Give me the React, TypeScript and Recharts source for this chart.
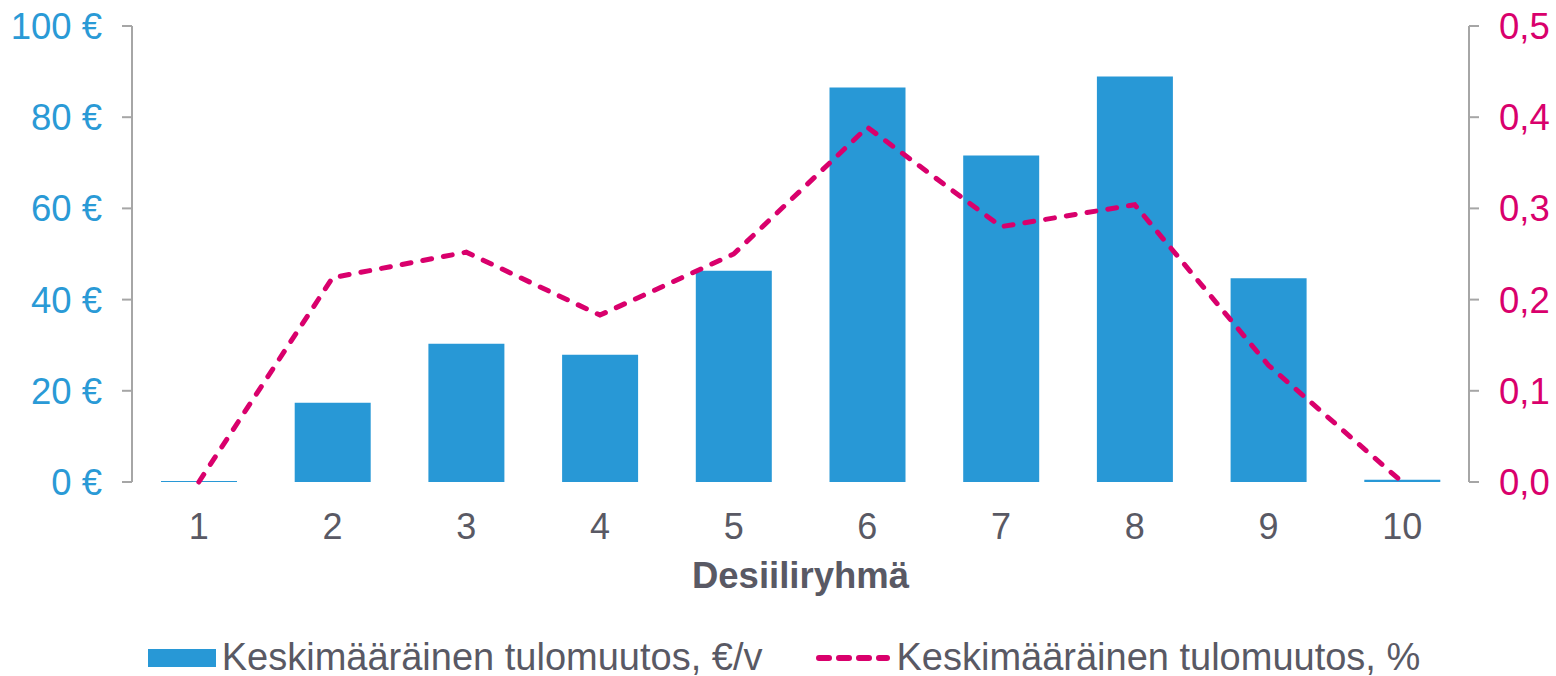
import React from 'react';
import { ComposedChart, Bar, Line, XAxis, YAxis, Legend, Label } from 'recharts';

const categories = ['1', '2', '3', '4', '5', '6', '7', '8', '9', '10'];
const euroValues = [0.2, 17.4, 30.3, 27.9, 46.3, 86.5, 71.6, 88.9, 44.7, 0.5];
const pctValues = [0.0, 0.224, 0.252, 0.183, 0.25, 0.389, 0.28, 0.304, 0.128, 0.0];
const leftTicks = [0, 20, 40, 60, 80, 100];
const rightTicks = [0, 0.1, 0.2, 0.3, 0.4, 0.5];
const boundaryTicks = [0.5, 1.5, 2.5, 3.5, 4.5, 5.5, 6.5, 7.5, 8.5, 9.5, 10.5];
const barName = 'Keskimääräinen tulomuutos, €/v';
const lineName = 'Keskimääräinen tulomuutos, %';
const xTitle = 'Desiiliryhmä';

const data = categories.map((c, i) => ({ cat: c, euro: euroValues[i], pct: pctValues[i] }));

const BLUE = '#2898d6';
const MAGENTA = '#d9006c';
const GRAY = '#a6a6a6';
const TEXT = '#595964';
const FONT = '"Liberation Sans", Arial, sans-serif';

const LegendContent = () => (
  <div
    style={{
      display: 'flex',
      justifyContent: 'center',
      alignItems: 'center',
      gap: 54,
      paddingTop: 44,
      paddingLeft: 12,
      fontFamily: FONT,
      fontSize: 38,
      color: TEXT,
      whiteSpace: 'nowrap',
    }}
  >
    <div style={{ display: 'flex', alignItems: 'center' }}>
      <svg width={68} height={18} style={{ marginRight: 6 }}>
        <rect x={0} y={0} width={68} height={18} fill={BLUE} />
      </svg>
      <span>{barName}</span>
    </div>
    <div style={{ display: 'flex', alignItems: 'center' }}>
      <svg width={74} height={10} style={{ marginRight: 6 }}>
        <line x1={3} y1={5} x2={71} y2={5} stroke={MAGENTA} strokeWidth={6} strokeDasharray="10 10" strokeLinecap="round" />
      </svg>
      <span>{lineName}</span>
    </div>
  </div>
);

export default function App() {
  return (
    <div style={{ position: 'absolute', left: 0, top: 0, width: 1556, height: 676, background: '#fff' }}>
      <ComposedChart
        width={1556}
        height={676}
        data={data}
        margin={{ top: 26, right: 0, bottom: 0, left: 0 }}
      >
        <XAxis
          xAxisId="grid"
          type="number"
          dataKey={() => 0}
          domain={[0.5, 10.5]}
          ticks={boundaryTicks}
          allowDataOverflow
          height={0}
          tick={false}
          tickSize={10}
          axisLine={{ stroke: GRAY, strokeWidth: 2 }}
          tickLine={{ stroke: GRAY, strokeWidth: 2 }}
        />
        <XAxis
          xAxisId="cat"
          dataKey="cat"
          height={110}
          axisLine={false}
          tickLine={false}
          tickSize={10}
          tickMargin={21}
          interval={0}
          tick={{ fill: TEXT, fontSize: 36, fontFamily: FONT }}
        >
          <Label
            value={xTitle}
            position="insideBottom"
            offset={4}
            style={{ fill: TEXT, fontSize: 36.5, fontWeight: 'bold', fontFamily: FONT }}
          />
        </XAxis>
        <YAxis
          yAxisId="left"
          orientation="left"
          width={132}
          domain={[0, 100]}
          ticks={leftTicks}
          tickFormatter={(v: number) => `${v} €`}
          tickSize={10}
          tickMargin={20}
          axisLine={{ stroke: GRAY, strokeWidth: 2 }}
          tickLine={{ stroke: GRAY, strokeWidth: 2 }}
          tick={{ fill: '#2a9ad6', fontSize: 36.5, fontFamily: FONT }}
        />
        <YAxis
          yAxisId="right"
          orientation="right"
          width={87}
          domain={[0, 0.5]}
          ticks={rightTicks}
          tickFormatter={(v: number) => v.toFixed(1).replace('.', ',')}
          tickSize={10}
          tickMargin={20}
          axisLine={{ stroke: GRAY, strokeWidth: 2 }}
          tickLine={{ stroke: GRAY, strokeWidth: 2 }}
          tick={{ fill: MAGENTA, fontSize: 36.5, fontFamily: FONT, textAnchor: 'start' }}
        />
        <Legend verticalAlign="bottom" height={84} content={<LegendContent />} />
        <Bar
          xAxisId="cat"
          yAxisId="left"
          dataKey="euro"
          name={barName}
          fill={BLUE}
          barSize={76}
          isAnimationActive={false}
        />
        <Line
          xAxisId="cat"
          yAxisId="right"
          dataKey="pct"
          name={lineName}
          stroke={MAGENTA}
          strokeWidth={5}
          strokeDasharray="9 12"
          strokeLinecap="round"
          dot={false}
          activeDot={false}
          type="linear"
          isAnimationActive={false}
        />
      </ComposedChart>
    </div>
  );
}
